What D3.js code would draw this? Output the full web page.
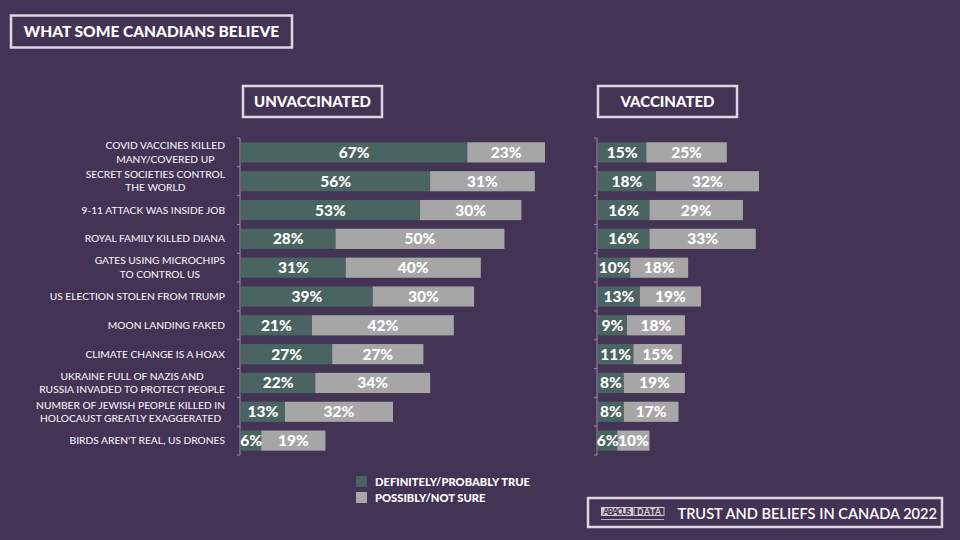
<!DOCTYPE html>
<html><head><meta charset="utf-8">
<script src="https://cdn.jsdelivr.net/npm/d3@7"></script>
<style>
html,body{margin:0;padding:0;background:#433354;}
svg{display:block;font-family:Lato, "Open Sans", sans-serif;}
</style></head>
<body>
<svg id="c" width="960" height="540"></svg>
<script>
const categories = [
  "COVID VACCINES KILLED|MANY/COVERED UP",
  "SECRET SOCIETIES CONTROL|THE WORLD",
  "9-11 ATTACK WAS INSIDE JOB",
  "ROYAL FAMILY KILLED DIANA",
  "GATES USING MICROCHIPS|TO CONTROL US",
  "US ELECTION STOLEN FROM TRUMP",
  "MOON LANDING FAKED",
  "CLIMATE CHANGE IS A HOAX",
  "UKRAINE FULL OF NAZIS AND|RUSSIA INVADED TO PROTECT PEOPLE",
  "NUMBER OF JEWISH PEOPLE KILLED IN|HOLOCAUST GREATLY EXAGGERATED",
  "BIRDS AREN'T REAL, US DRONES"
];
const unvaxTrue   = [67,56,53,28,31,39,21,27,22,13,6];
const unvaxUnsure = [23,31,30,50,40,30,42,27,34,32,19];
const vaxTrue     = [15,18,16,16,10,13,9,11,8,8,6];
const vaxUnsure   = [25,32,29,33,18,19,18,15,19,17,10];
const seriesNames = ["DEFINITELY/PROBABLY TRUE","POSSIBLY/NOT SURE"];
const panelTitles = ["UNVACCINATED","VACCINATED"];

const C = {bg:"#433354", dark:"#4a6461", light:"#a6a6a6", box:"#ddd4e4", text:"#ffffff", axis:"#9a8fa6"};
const svg = d3.select("#c");
svg.append("rect").attr("width",960).attr("height",540).attr("fill",C.bg);

svg.append("rect").attr("x",11).attr("y",15.5).attr("width",281).attr("height",32)
  .attr("fill","none").attr("stroke",C.box).attr("stroke-width",2.5);
svg.append("text").attr("x",151.5).attr("y",37).attr("text-anchor","middle")
  .attr("fill",C.text).attr("font-weight",900).attr("font-size",15.5).text("WHAT SOME CANADIANS BELIEVE");

const y = d3.scaleBand().domain(categories).range([138,455]).paddingInner(0.3).paddingOuter(0.15);

const panels = [
  {x0:241, x: d3.scaleLinear().domain([0,90]).range([241,545]), a:unvaxTrue, b:unvaxUnsure, title:panelTitles[0], bx:243},
  {x0:598, x: d3.scaleLinear().domain([0,50]).range([598,759]), a:vaxTrue, b:vaxUnsure, title:panelTitles[1], bx:598}
];

panels.forEach(p=>{
  const g = svg.append("g");
  g.append("rect").attr("x",p.bx).attr("y",86).attr("width",139).attr("height",31)
    .attr("fill","none").attr("stroke",C.box).attr("stroke-width",2.5);
  g.append("text").attr("x",p.bx+69.5).attr("y",107).attr("text-anchor","middle")
    .attr("fill",C.text).attr("font-weight",900).attr("font-size",15).text(p.title);
  g.append("line").attr("x1",p.x0-1).attr("x2",p.x0-1).attr("y1",138).attr("y2",455)
    .attr("stroke",C.axis).attr("stroke-width",1);
  const bounds = categories.map(c=>y(c)-y.step()*y.paddingInner()/2).concat([455]);
  g.selectAll(".tk").data(bounds).join("line")
    .attr("x1",p.x0-4).attr("x2",p.x0-1).attr("y1",d=>d).attr("y2",d=>d)
    .attr("stroke",C.axis).attr("stroke-width",1);
  g.selectAll(".a").data(categories).join("rect")
    .attr("x",p.x(0)).attr("y",c=>y(c)).attr("height",y.bandwidth())
    .attr("width",(c,i)=>p.x(p.a[i])-p.x(0)).attr("fill",C.dark);
  g.selectAll(".b").data(categories).join("rect")
    .attr("x",(c,i)=>p.x(p.a[i])).attr("y",c=>y(c)).attr("height",y.bandwidth())
    .attr("width",(c,i)=>p.x(p.a[i]+p.b[i])-p.x(p.a[i])).attr("fill",C.light);
  g.selectAll(".la").data(categories).join("text")
    .attr("x",(c,i)=>(p.x(0)+p.x(p.a[i]))/2).attr("y",c=>y(c)+y.bandwidth()/2+5.5)
    .attr("text-anchor","middle").attr("fill",C.text).attr("font-weight",900).attr("font-size",15.5)
    .text((c,i)=>p.a[i]+"%");
  g.selectAll(".lb").data(categories).join("text")
    .attr("x",(c,i)=>(p.x(p.a[i])+p.x(p.a[i]+p.b[i]))/2).attr("y",c=>y(c)+y.bandwidth()/2+5.5)
    .attr("text-anchor","middle").attr("fill",C.text).attr("font-weight",900).attr("font-size",15.5)
    .text((c,i)=>p.b[i]+"%");
});

const rightX = 225;
categories.forEach(c=>{
  const lines = c.split("|");
  const cy = y(c)+y.bandwidth()/2;
  const g = svg.append("g");
  const texts = lines.map((l,k)=>g.append("text")
    .attr("y", cy + (k-(lines.length-1)/2)*13.5 + 3.5)
    .attr("fill","#f2eef5").attr("font-size",10.2).attr("font-weight",500).text(l));
  const widths = texts.map(t=>t.node().getComputedTextLength());
  const maxW = d3.max(widths);
  texts.forEach(t=>t.attr("x", rightX - maxW/2).attr("text-anchor","middle"));
});

const leg = svg.append("g");
[C.dark, C.light].forEach((col,i)=>{
  leg.append("rect").attr("x",356).attr("y",476+i*16).attr("width",11).attr("height",11).attr("fill",col);
  leg.append("text").attr("x",375).attr("y",485.5+i*16).attr("fill",C.text)
    .attr("font-weight",900).attr("font-size",11.2).text(seriesNames[i]);
});

svg.append("rect").attr("x",588).attr("y",498).attr("width",354).attr("height",29)
  .attr("fill","none").attr("stroke",C.box).attr("stroke-width",2.5);
svg.append("rect").attr("x",601).attr("y",507).attr("width",32).attr("height",9).attr("fill","#cfcad4");
svg.append("text").attr("x",617).attr("y",514.8).attr("text-anchor","middle").attr("font-size",8.5)
  .attr("font-weight",900).attr("fill","#433354").attr("textLength",28).text("ABACUS");
svg.append("rect").attr("x",634).attr("y",507.5).attr("width",30).attr("height",8).attr("fill","none")
  .attr("stroke","#cfcad4").attr("stroke-width",1);
svg.append("text").attr("x",649).attr("y",514.8).attr("text-anchor","middle").attr("font-size",8.5)
  .attr("font-weight",900).attr("fill","#cfcad4").attr("textLength",24).text("DATA");
svg.append("line").attr("x1",601).attr("x2",664).attr("y1",519.5).attr("y2",519.5).attr("stroke","#cfcad4").attr("stroke-width",0.8);
svg.append("text").attr("x",937).attr("y",518.5).attr("text-anchor","end").attr("fill",C.text)
  .attr("font-size",14.6).attr("font-weight",600).text("TRUST AND BELIEFS IN CANADA 2022");
</script>
</body></html>
